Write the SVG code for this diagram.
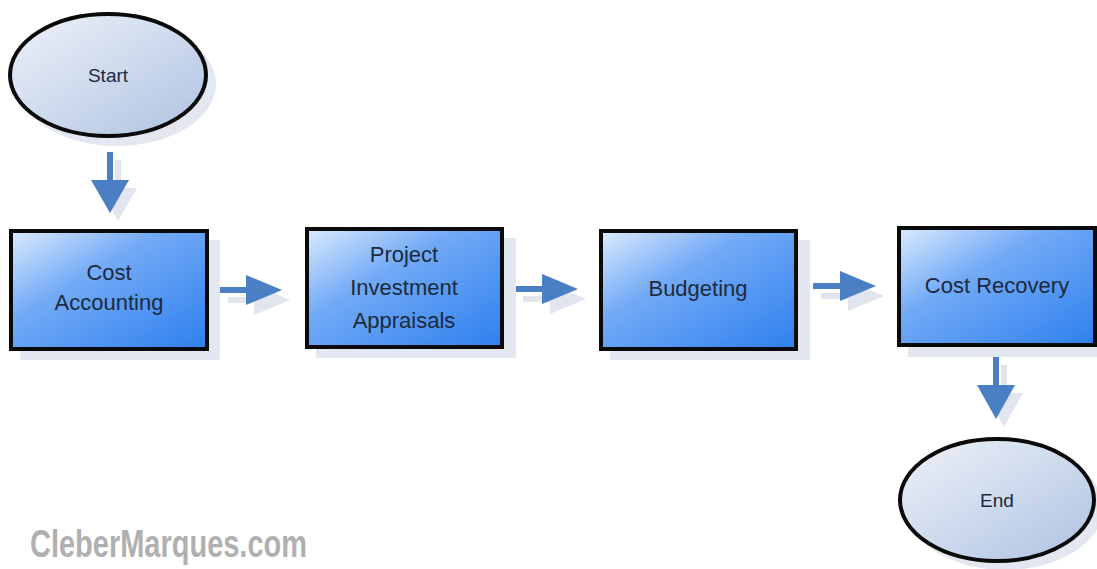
<svg xmlns="http://www.w3.org/2000/svg" width="1097" height="569" viewBox="0 0 1097 569">
<defs>
<linearGradient id="boxg" x1="0" y1="0" x2="1" y2="1">
<stop offset="0" stop-color="#dcebfd"/>
<stop offset="0.38" stop-color="#72aaf6"/>
<stop offset="1" stop-color="#2e80ee"/>
</linearGradient>
<linearGradient id="ellg" x1="0" y1="0" x2="1" y2="1">
<stop offset="0" stop-color="#eef2f8"/>
<stop offset="1" stop-color="#aec2e2"/>
</linearGradient>
<style>
.box{fill:url(#boxg);stroke:#0a0a0a;stroke-width:4}
.ell{fill:url(#ellg);stroke:#0a0a0a;stroke-width:4}
.shadow{fill:#e2e7f0}
.lbl{font-family:"Liberation Sans",Arial,sans-serif;font-size:22px;fill:#1c2a3c;text-anchor:middle}
.small{font-size:19px}
.arr{fill:#4a7fc4}
.arrs{fill:#e0e5ee}
</style>
</defs>
<rect width="1097" height="569" fill="#ffffff"/>

<g id="connectors">
<g transform="translate(8,8)"><path class="arrs" d="M107,152 h6 v28 h16 l-19,33 l-19,-33 h16 z"/></g>
<path class="arr" d="M107,152 h6 v28 h16 l-19,33 l-19,-33 h16 z"/>
<g transform="translate(8,10)"><path class="arrs" d="M220,287 h26 v-12 l36,15 l-36,15 v-12 h-26 z"/></g>
<path class="arr" d="M220,287 h26 v-12 l36,15 l-36,15 v-12 h-26 z"/>
<g transform="translate(8,10)"><path class="arrs" d="M515,286 h27 v-12 l36,15 l-36,15 v-12 h-27 z"/></g>
<path class="arr" d="M515,286 h27 v-12 l36,15 l-36,15 v-12 h-27 z"/>
<g transform="translate(8,10)"><path class="arrs" d="M813,283 h27 v-12 l36,15 l-36,15 v-12 h-27 z"/></g>
<path class="arr" d="M813,283 h27 v-12 l36,15 l-36,15 v-12 h-27 z"/>
<g transform="translate(8,8)"><path class="arrs" d="M993,357 h6 v28 h16 l-19,34 l-19,-34 h16 z"/></g>
<path class="arr" d="M993,357 h6 v28 h16 l-19,34 l-19,-34 h16 z"/>
</g>

<g id="start">
<ellipse class="shadow" cx="117" cy="84" rx="99" ry="62"/>
<ellipse class="ell" cx="108" cy="75" rx="98" ry="61"/>
<text class="lbl small" x="108" y="82">Start</text>
</g>

<g id="cost-accounting">
<rect class="shadow" x="20" y="240" width="200" height="120"/>
<rect class="box" x="11" y="231" width="196" height="118"/>
<text class="lbl" x="109" y="280">Cost</text>
<text class="lbl" x="109" y="310">Accounting</text>
</g>

<g id="project">
<rect class="shadow" x="316" y="238" width="200" height="120"/>
<rect class="box" x="307" y="229" width="195" height="118"/>
<text class="lbl" x="404" y="262">Project</text>
<text class="lbl" x="404" y="295">Investment</text>
<text class="lbl" x="404" y="328">Appraisals</text>
</g>

<g id="budgeting">
<rect class="shadow" x="610" y="240" width="200" height="120"/>
<rect class="box" x="601" y="231" width="195" height="118"/>
<text class="lbl" x="698" y="296">Budgeting</text>
</g>

<g id="cost-recovery">
<rect class="shadow" x="908" y="237" width="200" height="120"/>
<rect class="box" x="899" y="228" width="196" height="117"/>
<text class="lbl" x="997" y="293">Cost Recovery</text>
</g>

<g id="end">
<ellipse class="shadow" cx="1005" cy="508" rx="98" ry="62"/>
<ellipse class="ell" cx="997" cy="500" rx="97" ry="61"/>
<text class="lbl small" x="997" y="507">End</text>
</g>

<text x="30" y="557" font-family="'Liberation Sans Narrow','Liberation Sans',Arial,sans-serif" font-weight="bold" font-size="38" fill="#b0b0b0" textLength="277" lengthAdjust="spacingAndGlyphs">CleberMarques.com</text>
</svg>
